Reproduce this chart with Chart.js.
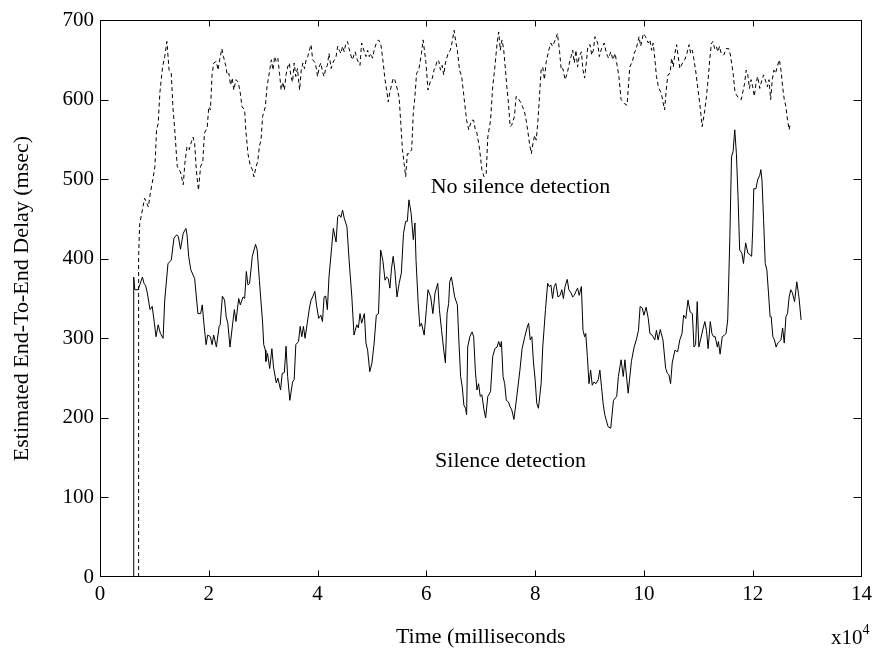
<!DOCTYPE html>
<html>
<head>
<meta charset="utf-8">
<script src="https://cdn.jsdelivr.net/npm/chart.js@4/dist/chart.umd.min.js"></script>
<style>
  body { margin: 0; background: #fff; }
  canvas { display: block; }
</style>
</head>
<body>
<canvas id="delay-chart" width="877" height="654"></canvas>
<script>
// Time axis is in units of 10^4 msec
const solidTime = [0.42, 0.62, 0.62, 0.64, 0.70, 0.73, 0.78, 0.81, 0.84, 0.87, 0.92, 0.96, 1.00, 1.03, 1.07, 1.11, 1.16, 1.19, 1.25, 1.31,
  1.36, 1.41, 1.44, 1.48, 1.53, 1.58, 1.60, 1.63, 1.67, 1.74, 1.80, 1.85, 1.88, 1.91, 1.95, 1.98, 2.03, 2.06, 2.09, 2.14,
  2.19, 2.21, 2.25, 2.29, 2.32, 2.35, 2.39, 2.44, 2.47, 2.50, 2.55, 2.58, 2.63, 2.66, 2.69, 2.72, 2.75, 2.80, 2.86, 2.89,
  2.93, 2.99, 3.01, 3.04, 3.05, 3.08, 3.12, 3.16, 3.19, 3.24, 3.27, 3.32, 3.35, 3.39, 3.42, 3.45, 3.49, 3.54, 3.57, 3.60,
  3.65, 3.68, 3.71, 3.74, 3.77, 3.81, 3.85, 3.88, 3.91, 3.95, 3.98, 4.02, 4.06, 4.09, 4.12, 4.15, 4.18, 4.21, 4.26, 4.29,
  4.34, 4.37, 4.40, 4.43, 4.46, 4.49, 4.54, 4.58, 4.63, 4.67, 4.72, 4.75, 4.78, 4.81, 4.86, 4.89, 4.92, 4.96, 5.00, 5.04,
  5.08, 5.12, 5.16, 5.20, 5.24, 5.27, 5.30, 5.33, 5.36, 5.39, 5.42, 5.46, 5.50, 5.54, 5.58, 5.62, 5.65, 5.68, 5.72, 5.76,
  5.79, 5.81, 5.85, 5.88, 5.91, 5.96, 6.00, 6.03, 6.08, 6.12, 6.16, 6.21, 6.24, 6.28, 6.32, 6.35, 6.38, 6.41, 6.43, 6.46,
  6.49, 6.52, 6.57, 6.60, 6.63, 6.66, 6.69, 6.72, 6.74, 6.76, 6.80, 6.84, 6.87, 6.90, 6.93, 6.96, 6.99, 7.02, 7.06, 7.09,
  7.13, 7.18, 7.22, 7.26, 7.30, 7.33, 7.36, 7.38, 7.41, 7.44, 7.47, 7.51, 7.54, 7.57, 7.61, 7.67, 7.72, 7.76, 7.81, 7.85,
  7.88, 7.91, 7.94, 7.97, 8.00, 8.03, 8.06, 8.11, 8.14, 8.19, 8.23, 8.26, 8.29, 8.32, 8.35, 8.38, 8.42, 8.46, 8.49, 8.52,
  8.55, 8.59, 8.62, 8.66, 8.69, 8.72, 8.75, 8.78, 8.81, 8.85, 8.88, 8.91, 8.93, 8.96, 8.99, 9.02, 9.05, 9.08, 9.12, 9.16,
  9.19, 9.22, 9.25, 9.28, 9.34, 9.39, 9.44, 9.50, 9.53, 9.58, 9.62, 9.65, 9.71, 9.77, 9.82, 9.86, 9.90, 9.93, 9.97, 10.00,
  10.04, 10.08, 10.11, 10.15, 10.20, 10.23, 10.26, 10.30, 10.35, 10.40, 10.43, 10.46, 10.49, 10.52, 10.57, 10.62, 10.66, 10.70, 10.73, 10.77,
  10.81, 10.85, 10.89, 10.92, 10.95, 10.98, 11.01, 11.04, 11.09, 11.12, 11.15, 11.18, 11.22, 11.25, 11.28, 11.31, 11.35, 11.37, 11.40, 11.44,
  11.48, 11.51, 11.54, 11.58, 11.61, 11.64, 11.67, 11.70, 11.73, 11.76, 11.80, 11.83, 11.87, 11.91, 11.95, 11.98, 12.00, 12.02, 12.06, 12.09,
  12.13, 12.15, 12.17, 12.20, 12.23, 12.26, 12.29, 12.32, 12.34, 12.37, 12.40, 12.43, 12.46, 12.49, 12.52, 12.55, 12.58, 12.61, 12.64, 12.67,
  12.70, 12.73, 12.77, 12.81, 12.85, 12.89];

const solidDelay = [0, 0, 377, 361, 361, 367, 377, 369, 366, 357, 336, 340, 319, 302, 317, 306, 300, 348, 394, 398,
  426, 430, 428, 412, 432, 438, 430, 403, 386, 375, 331, 331, 342, 319, 292, 304, 302, 292, 304, 289,
  315, 317, 353, 348, 327, 319, 289, 319, 336, 321, 350, 342, 352, 350, 384, 367, 369, 403, 418, 411,
  373, 319, 292, 285, 271, 281, 262, 287, 264, 244, 250, 235, 256, 257, 290, 252, 222, 245, 248, 292,
  296, 315, 302, 315, 300, 319, 338, 348, 352, 359, 342, 325, 329, 321, 352, 353, 336, 377, 415, 438,
  421, 453, 455, 452, 461, 451, 440, 398, 352, 304, 317, 313, 331, 319, 331, 294, 285, 258, 269, 294,
  329, 331, 411, 398, 373, 377, 375, 363, 388, 403, 386, 352, 369, 382, 432, 447, 447, 474, 457, 424,
  445, 398, 344, 315, 319, 304, 336, 361, 352, 331, 357, 369, 336, 310, 285, 269, 331, 344, 371, 377,
  365, 352, 342, 294, 252, 239, 216, 212, 204, 289, 302, 308, 302, 260, 235, 243, 227, 229, 210, 200,
  227, 233, 277, 287, 289, 296, 289, 296, 252, 243, 222, 220, 214, 210, 198, 231, 260, 287, 302, 313,
  319, 298, 302, 269, 248, 218, 212, 243, 289, 336, 369, 365, 367, 350, 365, 369, 352, 354, 361, 350,
  365, 374, 361, 357, 352, 354, 359, 363, 354, 365, 310, 302, 306, 277, 243, 260, 241, 245, 243, 248,
  260, 239, 218, 204, 189, 187, 222, 227, 252, 273, 252, 273, 231, 271, 289, 298, 310, 340, 338, 329,
  339, 325, 306, 304, 298, 310, 298, 311, 298, 262, 256, 254, 243, 269, 285, 283, 298, 306, 329, 325,
  348, 333, 331, 289, 292, 346, 289, 298, 313, 321, 310, 287, 321, 306, 302, 302, 289, 296, 280, 302,
  304, 306, 323, 428, 528, 535, 562, 532, 478, 411, 407, 394, 420, 407, 405, 403, 436, 488, 488, 499,
  505, 512, 499, 449, 394, 386, 357, 327, 327, 302, 298, 289, 294, 296, 298, 313, 294, 327, 331, 352,
  361, 357, 346, 371, 352, 323];

const dashedTime = [0.71, 0.71, 0.73, 0.79, 0.82, 0.89, 0.92, 0.97, 1.01, 1.04, 1.07, 1.10, 1.15, 1.19, 1.23, 1.27, 1.31, 1.34, 1.37, 1.42,
  1.45, 1.48, 1.53, 1.56, 1.60, 1.64, 1.68, 1.71, 1.74, 1.77, 1.81, 1.85, 1.89, 1.92, 1.97, 2.00, 2.03, 2.06, 2.09, 2.14,
  2.17, 2.20, 2.24, 2.27, 2.31, 2.34, 2.37, 2.40, 2.43, 2.46, 2.50, 2.54, 2.58, 2.61, 2.66, 2.68, 2.72, 2.76, 2.80, 2.83,
  2.87, 2.90, 2.93, 2.96, 2.99, 3.04, 3.07, 3.12, 3.15, 3.18, 3.21, 3.24, 3.27, 3.30, 3.33, 3.36, 3.39, 3.42, 3.45, 3.48,
  3.51, 3.54, 3.57, 3.60, 3.63, 3.67, 3.70, 3.73, 3.76, 3.79, 3.82, 3.85, 3.88, 3.91, 3.96, 4.00, 4.03, 4.06, 4.09, 4.12,
  4.15, 4.18, 4.21, 4.25, 4.28, 4.31, 4.34, 4.37, 4.40, 4.43, 4.46, 4.49, 4.52, 4.55, 4.58, 4.61, 4.64, 4.69, 4.73, 4.78,
  4.81, 4.86, 4.89, 4.92, 4.95, 4.98, 5.01, 5.04, 5.08, 5.12, 5.16, 5.20, 5.24, 5.27, 5.30, 5.33, 5.36, 5.39, 5.42, 5.47,
  5.50, 5.53, 5.56, 5.59, 5.62, 5.65, 5.68, 5.73, 5.76, 5.79, 5.82, 5.86, 5.91, 5.94, 5.99, 6.03, 6.07, 6.11, 6.14, 6.17,
  6.20, 6.23, 6.26, 6.29, 6.32, 6.35, 6.40, 6.44, 6.47, 6.51, 6.54, 6.57, 6.61, 6.65, 6.69, 6.74, 6.78, 6.83, 6.87, 6.90,
  6.93, 6.98, 7.02, 7.06, 7.10, 7.13, 7.18, 7.22, 7.26, 7.30, 7.33, 7.36, 7.39, 7.42, 7.45, 7.48, 7.51, 7.54, 7.57, 7.62,
  7.65, 7.68, 7.73, 7.77, 7.81, 7.84, 7.87, 7.90, 7.93, 7.96, 7.99, 8.02, 8.05, 8.08, 8.11, 8.14, 8.17, 8.20, 8.25, 8.29,
  8.32, 8.37, 8.41, 8.45, 8.48, 8.51, 8.55, 8.59, 8.63, 8.66, 8.69, 8.72, 8.75, 8.78, 8.81, 8.85, 8.88, 8.91, 8.94, 8.97,
  9.01, 9.04, 9.07, 9.10, 9.15, 9.18, 9.22, 9.27, 9.31, 9.35, 9.39, 9.43, 9.47, 9.50, 9.54, 9.58, 9.64, 9.69, 9.74, 9.79,
  9.82, 9.86, 9.91, 9.94, 9.99, 10.03, 10.08, 10.11, 10.14, 10.17, 10.20, 10.23, 10.26, 10.29, 10.32, 10.35, 10.38, 10.41, 10.44, 10.48,
  10.51, 10.54, 10.57, 10.60, 10.63, 10.66, 10.71, 10.75, 10.79, 10.83, 10.86, 10.89, 10.92, 10.95, 10.98, 11.01, 11.04, 11.07, 11.09, 11.12,
  11.15, 11.18, 11.21, 11.24, 11.27, 11.30, 11.33, 11.36, 11.39, 11.42, 11.47, 11.51, 11.56, 11.59, 11.64, 11.67, 11.70, 11.74, 11.79, 11.82,
  11.85, 11.88, 11.91, 11.94, 11.97, 12.00, 12.03, 12.06, 12.09, 12.13, 12.15, 12.20, 12.23, 12.27, 12.30, 12.33, 12.36, 12.39, 12.42, 12.45,
  12.49, 12.52, 12.55, 12.58, 12.61, 12.64, 12.67, 12.69];

const dashedDelay = [0, 402, 444, 465, 476, 465, 480, 499, 516, 562, 570, 608, 641, 654, 673, 637, 633, 591, 566, 516,
  512, 509, 493, 520, 541, 537, 547, 553, 545, 512, 486, 516, 522, 558, 564, 591, 587, 631, 646, 648,
  637, 650, 664, 654, 643, 631, 633, 618, 627, 612, 625, 622, 608, 591, 587, 562, 532, 518, 512, 503,
  516, 522, 541, 549, 579, 591, 616, 637, 650, 637, 654, 648, 652, 633, 612, 622, 612, 631, 641, 646,
  629, 622, 646, 629, 639, 612, 637, 646, 639, 650, 654, 662, 669, 650, 646, 629, 641, 646, 635, 629,
  639, 643, 658, 639, 646, 650, 654, 667, 662, 658, 667, 660, 671, 673, 664, 656, 650, 660, 650, 643,
  671, 660, 654, 662, 654, 658, 652, 662, 671, 675, 671, 650, 625, 612, 597, 610, 618, 627, 625, 612,
  602, 570, 537, 520, 503, 532, 532, 537, 583, 604, 633, 637, 658, 675, 648, 612, 622, 627, 637, 641,
  650, 648, 637, 643, 631, 646, 658, 662, 671, 687, 673, 662, 637, 629, 604, 574, 562, 574, 574, 562,
  558, 537, 512, 503, 507, 553, 574, 616, 641, 671, 685, 662, 675, 664, 641, 616, 595, 566, 568, 579,
  604, 602, 597, 591, 583, 572, 558, 543, 532, 545, 555, 549, 572, 604, 637, 641, 625, 646, 662, 671,
  667, 675, 683, 660, 637, 639, 625, 633, 646, 654, 662, 646, 662, 641, 654, 660, 637, 627, 646, 667,
  669, 656, 662, 679, 671, 654, 664, 671, 658, 652, 660, 650, 658, 646, 629, 600, 595, 593, 641, 648,
  658, 664, 679, 667, 683, 679, 671, 675, 662, 671, 652, 629, 618, 612, 608, 597, 587, 612, 631, 633,
  652, 641, 658, 669, 654, 639, 646, 650, 658, 669, 658, 662, 650, 637, 620, 604, 587, 566, 574, 587,
  604, 625, 650, 671, 673, 664, 667, 660, 667, 658, 656, 664, 664, 656, 633, 612, 606, 602, 600, 610,
  620, 637, 631, 614, 625, 616, 604, 620, 629, 614, 620, 631, 625, 616, 625, 600, 625, 637, 633, 641,
  650, 637, 616, 600, 591, 574, 562, 570];

const xTickStep = 2;
const yTickStep = 100;

// Curve labels, placed in data units
const curveLabels = [
  { text: 'No silence detection', x: 6.08, y: 490 },
  { text: 'Silence detection', x: 6.16, y: 145 }
];

const serif = '"Liberation Serif", "Times New Roman", Times, serif';

function toPoints(xs, ys) {
  return xs.map((x, i) => ({ x: x, y: ys[i] }));
}

// Box frame, inward tick marks, curve labels and the x10^4 exponent
const framePlugin = {
  id: 'frame',
  afterDraw(chart) {
    const { ctx, chartArea: a, scales: { x, y } } = chart;
    ctx.save();
    ctx.strokeStyle = '#000';
    ctx.lineWidth = 1;
    const L = Math.round(a.left) + 0.5, R = Math.round(a.right) - 0.5;
    const T = Math.round(a.top) + 0.5, B = Math.round(a.bottom) - 0.5;
    ctx.strokeRect(L, T, R - L, B - T);

    ctx.beginPath();
    x.ticks.forEach(t => {
      const px = Math.round(x.getPixelForValue(t.value)) + 0.5;
      if (px <= L + 1 || px >= R - 1) return;
      ctx.moveTo(px, B); ctx.lineTo(px, B - 6);
      ctx.moveTo(px, T); ctx.lineTo(px, T + 6);
    });
    y.ticks.forEach(t => {
      const py = Math.round(y.getPixelForValue(t.value)) + 0.5;
      if (py <= T + 1 || py >= B - 1) return;
      ctx.moveTo(L, py); ctx.lineTo(L + 8, py);
      ctx.moveTo(R, py); ctx.lineTo(R - 8, py);
    });
    ctx.stroke();

    ctx.fillStyle = '#000';
    ctx.textBaseline = 'middle';
    ctx.textAlign = 'left';
    ctx.font = '22px ' + serif;
    curveLabels.forEach(l => {
      ctx.fillText(l.text, x.getPixelForValue(l.x), y.getPixelForValue(l.y));
    });

    // exponent note under the right end of the x axis
    ctx.font = '21px ' + serif;
    ctx.fillText('x10', 831, 638);
    const w = ctx.measureText('x10').width;
    ctx.font = '14px ' + serif;
    ctx.fillText('4', 831 + w, 630);
    ctx.restore();
  }
};

const chart = new Chart(document.getElementById('delay-chart'), {
  type: 'line',
  data: {
    datasets: [
      {
        label: 'Silence detection',
        data: toPoints(solidTime, solidDelay),
        borderColor: '#000',
        borderWidth: 1,
        pointRadius: 0,
        tension: 0,
        fill: false
      },
      {
        label: 'No silence detection',
        data: toPoints(dashedTime, dashedDelay),
        borderColor: '#000',
        borderWidth: 1,
        borderDash: [4, 3],
        pointRadius: 0,
        tension: 0,
        fill: false
      }
    ]
  },
  options: {
    responsive: false,
    animation: false,
    layout: { padding: { top: 20, right: 13, left: 0, bottom: 0 } },
    plugins: {
      legend: { display: false },
      tooltip: { enabled: false }
    },
    scales: {
      x: {
        type: 'linear',
        min: 0,
        max: 14,
        grid: { display: false, drawTicks: false },
        border: { display: false },
        ticks: { stepSize: xTickStep, color: '#000', padding: 5, maxRotation: 0, font: { family: serif, size: 21 } },
        title: { display: true, text: 'Time (milliseconds', color: '#000', padding: { top: 0, bottom: 4 }, font: { family: serif, size: 22 } },
        afterFit(scale) { scale.height = 77; }
      },
      y: {
        min: 0,
        max: 700,
        grid: { display: false, drawTicks: false },
        border: { display: false },
        ticks: { stepSize: yTickStep, color: '#000', padding: 6, font: { family: serif, size: 21 } },
        title: { display: true, text: 'Estimated End-To-End Delay (msec)', color: '#000', padding: { top: 9, bottom: 0 }, font: { family: serif, size: 22 } },
        afterFit(scale) { scale.width = 100; }
      }
    }
  },
  plugins: [framePlugin]
});
</script>
</body>
</html>
